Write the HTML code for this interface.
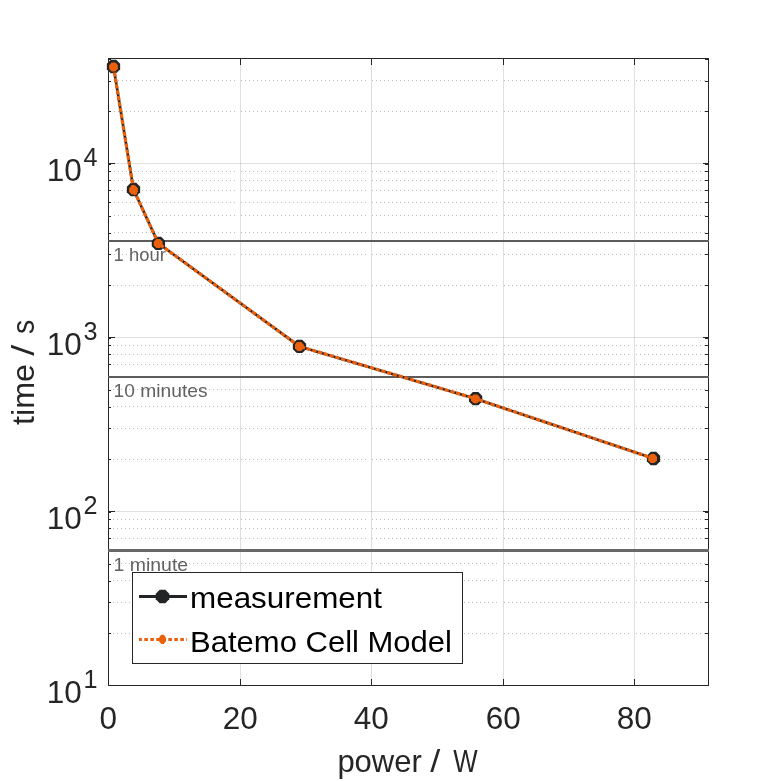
<!DOCTYPE html>
<html lang="en"><head><meta charset="utf-8"><title>time vs power</title>
<style>html,body{margin:0;padding:0;background:#fff;overflow:hidden}svg{display:block}text{font-family:"Liberation Sans",sans-serif}</style></head>
<body>
<svg width="781" height="781" viewBox="0 0 781 781">
<rect width="781" height="781" fill="#fff"/>
<g shape-rendering="crispEdges" fill="none" stroke="#262626" stroke-opacity="0.15" stroke-width="1">
<line x1="240.5" y1="58.5" x2="240.5" y2="685.5"/>
<line x1="371.5" y1="58.5" x2="371.5" y2="685.5"/>
<line x1="503.5" y1="58.5" x2="503.5" y2="685.5"/>
<line x1="634.5" y1="58.5" x2="634.5" y2="685.5"/>
<line x1="108.5" y1="511.5" x2="708.5" y2="511.5"/>
<line x1="108.5" y1="337.5" x2="708.5" y2="337.5"/>
<line x1="108.5" y1="163.5" x2="708.5" y2="163.5"/>
</g>
<g shape-rendering="crispEdges" fill="none" stroke="#bebebe" stroke-width="1" stroke-dasharray="1 3">
<path d="M113 633.5H238 M241 633.5H369 M372 633.5H499 M504 633.5H632 M636 633.5H705"/>
<path d="M113 602.5H238 M241 602.5H369 M372 602.5H499 M504 602.5H632 M636 602.5H705"/>
<path d="M113 580.5H238 M241 580.5H369 M372 580.5H499 M504 580.5H632 M636 580.5H705"/>
<path d="M113 563.5H238 M241 563.5H369 M372 563.5H499 M504 563.5H632 M636 563.5H705"/>
<path d="M113 538.5H238 M241 538.5H369 M372 538.5H499 M504 538.5H632 M636 538.5H705"/>
<path d="M113 528.5H238 M241 528.5H369 M372 528.5H499 M504 528.5H632 M636 528.5H705"/>
<path d="M113 519.5H238 M241 519.5H369 M372 519.5H499 M504 519.5H632 M636 519.5H705"/>
<path d="M113 459.5H238 M241 459.5H369 M372 459.5H499 M504 459.5H632 M636 459.5H705"/>
<path d="M113 428.5H238 M241 428.5H369 M372 428.5H499 M504 428.5H632 M636 428.5H705"/>
<path d="M113 406.5H238 M241 406.5H369 M372 406.5H499 M504 406.5H632 M636 406.5H705"/>
<path d="M113 389.5H238 M241 389.5H369 M372 389.5H499 M504 389.5H632 M636 389.5H705"/>
<path d="M113 364.5H238 M241 364.5H369 M372 364.5H499 M504 364.5H632 M636 364.5H705"/>
<path d="M113 354.5H238 M241 354.5H369 M372 354.5H499 M504 354.5H632 M636 354.5H705"/>
<path d="M113 345.5H238 M241 345.5H369 M372 345.5H499 M504 345.5H632 M636 345.5H705"/>
<path d="M113 285.5H238 M241 285.5H369 M372 285.5H499 M504 285.5H632 M636 285.5H705"/>
<path d="M114 254.5H238 M241 254.5H369 M372 254.5H499 M504 254.5H632 M636 254.5H705"/>
<path d="M114 232.5H238 M241 232.5H369 M372 232.5H499 M504 232.5H632 M636 232.5H705"/>
<path d="M114 215.5H238 M241 215.5H369 M372 215.5H499 M504 215.5H632 M636 215.5H705"/>
<path d="M114 202.5H238 M241 202.5H369 M372 202.5H499 M504 202.5H632 M636 202.5H705"/>
<path d="M114 190.5H238 M241 190.5H369 M372 190.5H499 M504 190.5H632 M636 190.5H705"/>
<path d="M114 180.5H238 M241 180.5H369 M372 180.5H499 M504 180.5H632 M636 180.5H705"/>
<path d="M114 171.5H238 M241 171.5H369 M372 171.5H499 M504 171.5H632 M636 171.5H705"/>
<path d="M114 111.5H238 M241 111.5H369 M372 111.5H499 M504 111.5H632 M636 111.5H705"/>
<path d="M114 80.5H238 M241 80.5H369 M372 80.5H499 M504 80.5H632 M636 80.5H705"/>
</g>
<text x="113.6" y="260.6"  font-size="19" fill="#626262" textLength="52.2" lengthAdjust="spacingAndGlyphs">1 hour</text>
<text x="113.6" y="396.8"  font-size="19" fill="#626262" textLength="94.0" lengthAdjust="spacingAndGlyphs">10 minutes</text>
<text x="113.6" y="570.6"  font-size="19" fill="#626262" textLength="74.5" lengthAdjust="spacingAndGlyphs">1 minute</text>
<g shape-rendering="crispEdges" stroke="#262626" stroke-width="1" fill="none">
<rect x="108.5" y="58.5" width="600.0" height="627.0"/>
<line x1="108.5" y1="685.5" x2="108.5" y2="679"/>
<line x1="108.5" y1="58.5" x2="108.5" y2="65"/>
<line x1="240.5" y1="685.5" x2="240.5" y2="679"/>
<line x1="240.5" y1="58.5" x2="240.5" y2="65"/>
<line x1="371.5" y1="685.5" x2="371.5" y2="679"/>
<line x1="371.5" y1="58.5" x2="371.5" y2="65"/>
<line x1="503.5" y1="685.5" x2="503.5" y2="679"/>
<line x1="503.5" y1="58.5" x2="503.5" y2="65"/>
<line x1="634.5" y1="685.5" x2="634.5" y2="679"/>
<line x1="634.5" y1="58.5" x2="634.5" y2="65"/>
<line x1="108.5" y1="685.5" x2="115" y2="685.5"/>
<line x1="708.5" y1="685.5" x2="703" y2="685.5"/>
<line x1="108.5" y1="511.5" x2="115" y2="511.5"/>
<line x1="708.5" y1="511.5" x2="703" y2="511.5"/>
<line x1="108.5" y1="512.5" x2="111" y2="512.5"/>
<line x1="708.5" y1="512.5" x2="705" y2="512.5"/>
<line x1="108.5" y1="337.5" x2="115" y2="337.5"/>
<line x1="708.5" y1="337.5" x2="703" y2="337.5"/>
<line x1="108.5" y1="338.5" x2="111" y2="338.5"/>
<line x1="708.5" y1="338.5" x2="705" y2="338.5"/>
<line x1="108.5" y1="163.5" x2="115" y2="163.5"/>
<line x1="708.5" y1="163.5" x2="703" y2="163.5"/>
<line x1="108.5" y1="164.5" x2="111" y2="164.5"/>
<line x1="708.5" y1="164.5" x2="705" y2="164.5"/>
<line x1="108.5" y1="633.5" x2="111" y2="633.5"/>
<line x1="708.5" y1="633.5" x2="705" y2="633.5"/>
<line x1="108.5" y1="602.5" x2="111" y2="602.5"/>
<line x1="708.5" y1="602.5" x2="705" y2="602.5"/>
<line x1="108.5" y1="581.5" x2="111" y2="581.5"/>
<line x1="708.5" y1="581.5" x2="705" y2="581.5"/>
<line x1="108.5" y1="564.5" x2="111" y2="564.5"/>
<line x1="708.5" y1="564.5" x2="705" y2="564.5"/>
<line x1="108.5" y1="550.5" x2="111" y2="550.5"/>
<line x1="708.5" y1="550.5" x2="705" y2="550.5"/>
<line x1="108.5" y1="538.5" x2="111" y2="538.5"/>
<line x1="708.5" y1="538.5" x2="705" y2="538.5"/>
<line x1="108.5" y1="528.5" x2="111" y2="528.5"/>
<line x1="708.5" y1="528.5" x2="705" y2="528.5"/>
<line x1="108.5" y1="519.5" x2="111" y2="519.5"/>
<line x1="708.5" y1="519.5" x2="705" y2="519.5"/>
<line x1="108.5" y1="459.5" x2="111" y2="459.5"/>
<line x1="708.5" y1="459.5" x2="705" y2="459.5"/>
<line x1="108.5" y1="428.5" x2="111" y2="428.5"/>
<line x1="708.5" y1="428.5" x2="705" y2="428.5"/>
<line x1="108.5" y1="407.5" x2="111" y2="407.5"/>
<line x1="708.5" y1="407.5" x2="705" y2="407.5"/>
<line x1="108.5" y1="390.5" x2="111" y2="390.5"/>
<line x1="708.5" y1="390.5" x2="705" y2="390.5"/>
<line x1="108.5" y1="376.5" x2="111" y2="376.5"/>
<line x1="708.5" y1="376.5" x2="705" y2="376.5"/>
<line x1="108.5" y1="364.5" x2="111" y2="364.5"/>
<line x1="708.5" y1="364.5" x2="705" y2="364.5"/>
<line x1="108.5" y1="354.5" x2="111" y2="354.5"/>
<line x1="708.5" y1="354.5" x2="705" y2="354.5"/>
<line x1="108.5" y1="345.5" x2="111" y2="345.5"/>
<line x1="708.5" y1="345.5" x2="705" y2="345.5"/>
<line x1="108.5" y1="285.5" x2="111" y2="285.5"/>
<line x1="708.5" y1="285.5" x2="705" y2="285.5"/>
<line x1="108.5" y1="254.5" x2="111" y2="254.5"/>
<line x1="708.5" y1="254.5" x2="705" y2="254.5"/>
<line x1="108.5" y1="233.5" x2="111" y2="233.5"/>
<line x1="708.5" y1="233.5" x2="705" y2="233.5"/>
<line x1="108.5" y1="216.5" x2="111" y2="216.5"/>
<line x1="708.5" y1="216.5" x2="705" y2="216.5"/>
<line x1="108.5" y1="202.5" x2="111" y2="202.5"/>
<line x1="708.5" y1="202.5" x2="705" y2="202.5"/>
<line x1="108.5" y1="190.5" x2="111" y2="190.5"/>
<line x1="708.5" y1="190.5" x2="705" y2="190.5"/>
<line x1="108.5" y1="180.5" x2="111" y2="180.5"/>
<line x1="708.5" y1="180.5" x2="705" y2="180.5"/>
<line x1="108.5" y1="171.5" x2="111" y2="171.5"/>
<line x1="708.5" y1="171.5" x2="705" y2="171.5"/>
<line x1="108.5" y1="111.5" x2="111" y2="111.5"/>
<line x1="708.5" y1="111.5" x2="705" y2="111.5"/>
<line x1="108.5" y1="81.5" x2="111" y2="81.5"/>
<line x1="708.5" y1="81.5" x2="705" y2="81.5"/>
<line x1="108.5" y1="59.5" x2="111" y2="59.5"/>
<line x1="708.5" y1="59.5" x2="705" y2="59.5"/>
</g>
<rect x="108" y="240" width="601" height="2" fill="#5c5c5c" shape-rendering="crispEdges"/>
<rect x="108" y="376" width="601" height="2" fill="#5c5c5c" shape-rendering="crispEdges"/>
<rect x="108" y="549" width="601" height="3" fill="#686868" shape-rendering="crispEdges"/>
<polyline points="113.5,66.5 133.5,189.5 158.4,243.4 299.5,346.4 475.6,398.7 653.5,458.5" fill="none" stroke="#222426" stroke-width="2.6" stroke-linejoin="round"/>
<polygon points="110.75,59.85 116.25,59.85 120.15,63.75 120.15,69.25 116.25,73.15 110.75,73.15 106.85,69.25 106.85,63.75" fill="#222426"/>
<polygon points="130.75,182.85 136.25,182.85 140.15,186.75 140.15,192.25 136.25,196.15 130.75,196.15 126.85,192.25 126.85,186.75" fill="#222426"/>
<polygon points="155.65,236.75 161.15,236.75 165.05,240.65 165.05,246.15 161.15,250.05 155.65,250.05 151.75,246.15 151.75,240.65" fill="#222426"/>
<polygon points="296.75,339.75 302.25,339.75 306.15,343.65 306.15,349.15 302.25,353.05 296.75,353.05 292.85,349.15 292.85,343.65" fill="#222426"/>
<polygon points="472.85,392.05 478.35,392.05 482.25,395.95 482.25,401.45 478.35,405.35 472.85,405.35 468.95,401.45 468.95,395.95" fill="#222426"/>
<polygon points="650.75,451.85 656.25,451.85 660.15,455.75 660.15,461.25 656.25,465.15 650.75,465.15 646.85,461.25 646.85,455.75" fill="#222426"/>
<polyline points="113.5,66.5 133.5,189.5 158.4,243.4 299.5,346.4 475.6,398.7 653.5,458.5" fill="none" stroke="#ea600c" stroke-width="3.2" stroke-dasharray="4.4 1.6" stroke-linejoin="round"/>
<polygon points="111.68,62.60 115.32,62.60 117.90,65.18 117.90,68.82 115.32,71.40 111.68,71.40 109.10,68.82 109.10,65.18" fill="#ea600c"/>
<polygon points="131.68,185.60 135.32,185.60 137.90,188.18 137.90,191.82 135.32,194.40 131.68,194.40 129.10,191.82 129.10,188.18" fill="#ea600c"/>
<polygon points="156.38,239.10 160.02,239.10 162.60,241.68 162.60,245.32 160.02,247.90 156.38,247.90 153.80,245.32 153.80,241.68" fill="#ea600c"/>
<polygon points="297.58,342.10 301.22,342.10 303.80,344.68 303.80,348.32 301.22,350.90 297.58,350.90 295.00,348.32 295.00,344.68" fill="#ea600c"/>
<polygon points="473.58,394.40 477.22,394.40 479.80,396.98 479.80,400.62 477.22,403.20 473.58,403.20 471.00,400.62 471.00,396.98" fill="#ea600c"/>
<polygon points="650.78,454.10 654.42,454.10 657.00,456.68 657.00,460.32 654.42,462.90 650.78,462.90 648.20,460.32 648.20,456.68" fill="#ea600c"/>
<rect x="132.5" y="572.5" width="330" height="91" fill="#fff" stroke="#262626" stroke-width="1" shape-rendering="crispEdges"/>
<line x1="139" y1="596.5" x2="187" y2="596.5" stroke="#222426" stroke-width="3"/>
<polygon points="159.70,589.75 165.30,589.75 169.25,593.70 169.25,599.30 165.30,603.25 159.70,603.25 155.75,599.30 155.75,593.70" fill="#222426"/>
<line x1="139" y1="639.4" x2="187" y2="639.4" stroke="#ea600c" stroke-width="3" stroke-dasharray="3.6 2.4" stroke-dashoffset="0.7"/>
<polygon points="161.13,634.80 163.87,634.80 165.80,637.49 165.80,641.31 163.87,644.00 161.13,644.00 159.20,641.31 159.20,637.49" fill="#ea600c"/>
<text x="190" y="608"  font-size="29.5" fill="#000" textLength="192" lengthAdjust="spacingAndGlyphs">measurement</text>
<text x="190" y="651.8"  font-size="29.5" fill="#000" textLength="262" lengthAdjust="spacingAndGlyphs">Batemo Cell Model</text>
<text x="108.2" y="729"  font-size="31.5" fill="#262626" text-anchor="middle">0</text>
<text x="240.2" y="729"  font-size="31.5" fill="#262626" text-anchor="middle">20</text>
<text x="371.2" y="729"  font-size="31.5" fill="#262626" text-anchor="middle">40</text>
<text x="503.2" y="729"  font-size="31.5" fill="#262626" text-anchor="middle">60</text>
<text x="634.2" y="729"  font-size="31.5" fill="#262626" text-anchor="middle">80</text>
<text x="81.8" y="702.9"  font-size="31.5" fill="#262626" text-anchor="end">10</text>
<text x="83.6" y="687.6"  font-size="25.2" fill="#262626">1</text>
<text x="81.8" y="528.9"  font-size="31.5" fill="#262626" text-anchor="end">10</text>
<text x="83.6" y="513.6"  font-size="25.2" fill="#262626">2</text>
<text x="81.8" y="354.9"  font-size="31.5" fill="#262626" text-anchor="end">10</text>
<text x="83.6" y="339.6"  font-size="25.2" fill="#262626">3</text>
<text x="81.8" y="180.9"  font-size="31.5" fill="#262626" text-anchor="end">10</text>
<text x="83.6" y="165.6"  font-size="25.2" fill="#262626">4</text>
<text y="771.7"  font-size="31.5" fill="#262626"><tspan x="337.4" textLength="93" lengthAdjust="spacingAndGlyphs">power </tspan><tspan x="430.2" textLength="20" lengthAdjust="spacingAndGlyphs">/ </tspan><tspan x="453.3" textLength="24.4" lengthAdjust="spacingAndGlyphs">W</tspan></text>
<text transform="translate(34.2,372) rotate(-90)"  font-size="31.5" fill="#262626"><tspan x="-53" textLength="69.9" lengthAdjust="spacingAndGlyphs">time </tspan><tspan x="16.3" textLength="22" lengthAdjust="spacingAndGlyphs">/ </tspan><tspan x="38" textLength="14.2" lengthAdjust="spacingAndGlyphs">s</tspan></text>
</svg>
</body></html>
